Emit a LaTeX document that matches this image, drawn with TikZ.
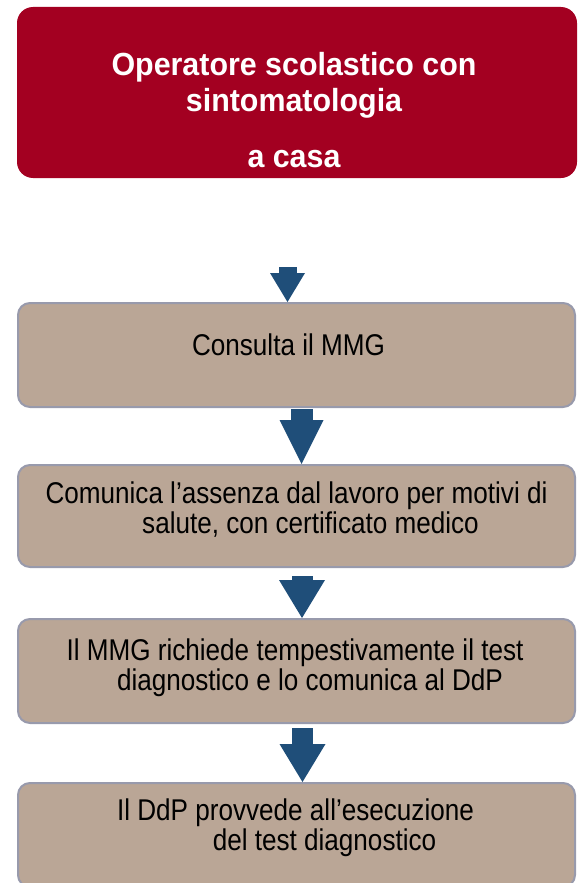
\documentclass[tikz,border=0pt]{standalone}
\usepackage{fontspec}
\setmainfont{Liberation Sans}
\newfontfamily\stepfont{Liberation Sans}[FakeStretch=0.87]
\newfontfamily\titlefont{Liberation Sans}[FakeStretch=0.95]
\usetikzlibrary{positioning, arrows.meta}
\definecolor{titlered}{RGB}{163,0,33}
\definecolor{stepfill}{RGB}{186,166,150}
\definecolor{stepedge}{RGB}{152,154,172}
\definecolor{arrowblue}{RGB}{31,78,121}

\begin{document}
\begin{tikzpicture}[x=1pt, y=-1pt,
        stepbox/.style = {draw=stepedge, line width=2pt, fill=stepfill, rounded corners=12pt, minimum width=557pt, inner sep=0pt},
        steptext/.style = {anchor=north, align=center, inner sep=0pt, font=\stepfont\fontsize{30}{30}\selectfont},
        flowarrow/.style = {arrowblue, line width=21pt, -{Triangle[width=46pt, length=38pt, line width=0pt]}}]
        \useasboundingbox (0, 0) rectangle (580, 883);
        \clip (0, 0) rectangle (580, 883);
        \node[fill=titlered, rounded corners=16pt, minimum width=560pt, minimum height=171pt, inner sep=0pt] (operatore) at (297, 92.5) {};
        \node[anchor=north, align=center, inner sep=0pt, text=white, font=\titlefont\bfseries\fontsize{32}{36}\selectfont] (operatoretext) at (294, 52.6) {Operatore scolastico con\\sintomatologia\\[20pt]a casa};
        \node[stepbox, minimum height=104pt] (consulta) at (296.5, 355) {};
        \node[stepbox, minimum height=102pt] (assenza) at (296.5, 516) {};
        \node[stepbox, minimum height=104pt] (richiesta) at (296.5, 671) {};
        \node[stepbox, minimum height=104pt] (esecuzione) at (296.5, 835) {};
        \node[steptext] (consultatext) at (288.5, 333.1) {Consulta il MMG};
        \node[steptext] (assenzatext) at (296.5, 481.1) {Comunica l’assenza dal lavoro per motivi di\\\hspace*{28pt}salute, con certificato medico};
        \node[steptext] (richiestatext) at (295, 638.1) {Il MMG richiede tempestivamente il test\\\hspace*{30pt}diagnostico e lo comunica al DdP};
        \node[steptext] (esecuzionetext) at (295.5, 798.1) {Il DdP provvede all’esecuzione\\\hspace*{58pt}del test diagnostico};
        \draw[flowarrow, line width=18pt, -{Triangle[width=35pt, length=29pt, line width=0pt]}] ([xshift=-9pt, yshift=35pt]consulta.north) -- ([xshift=-9pt]consulta.north);
        \draw[flowarrow, line width=22pt, -{Triangle[width=44pt, length=44pt, line width=0pt]}] ([xshift=5pt, yshift=-1pt]consulta.south) -- ([xshift=5pt]assenza.north);
        \draw[flowarrow] ([xshift=5.5pt, yshift=-8pt]assenza.south) -- ([xshift=5.5pt]richiesta.north);
        \draw[flowarrow] ([xshift=6pt, yshift=-4pt]richiesta.south) -- ([xshift=6pt]esecuzione.north);
    \end{tikzpicture}
\end{document}
